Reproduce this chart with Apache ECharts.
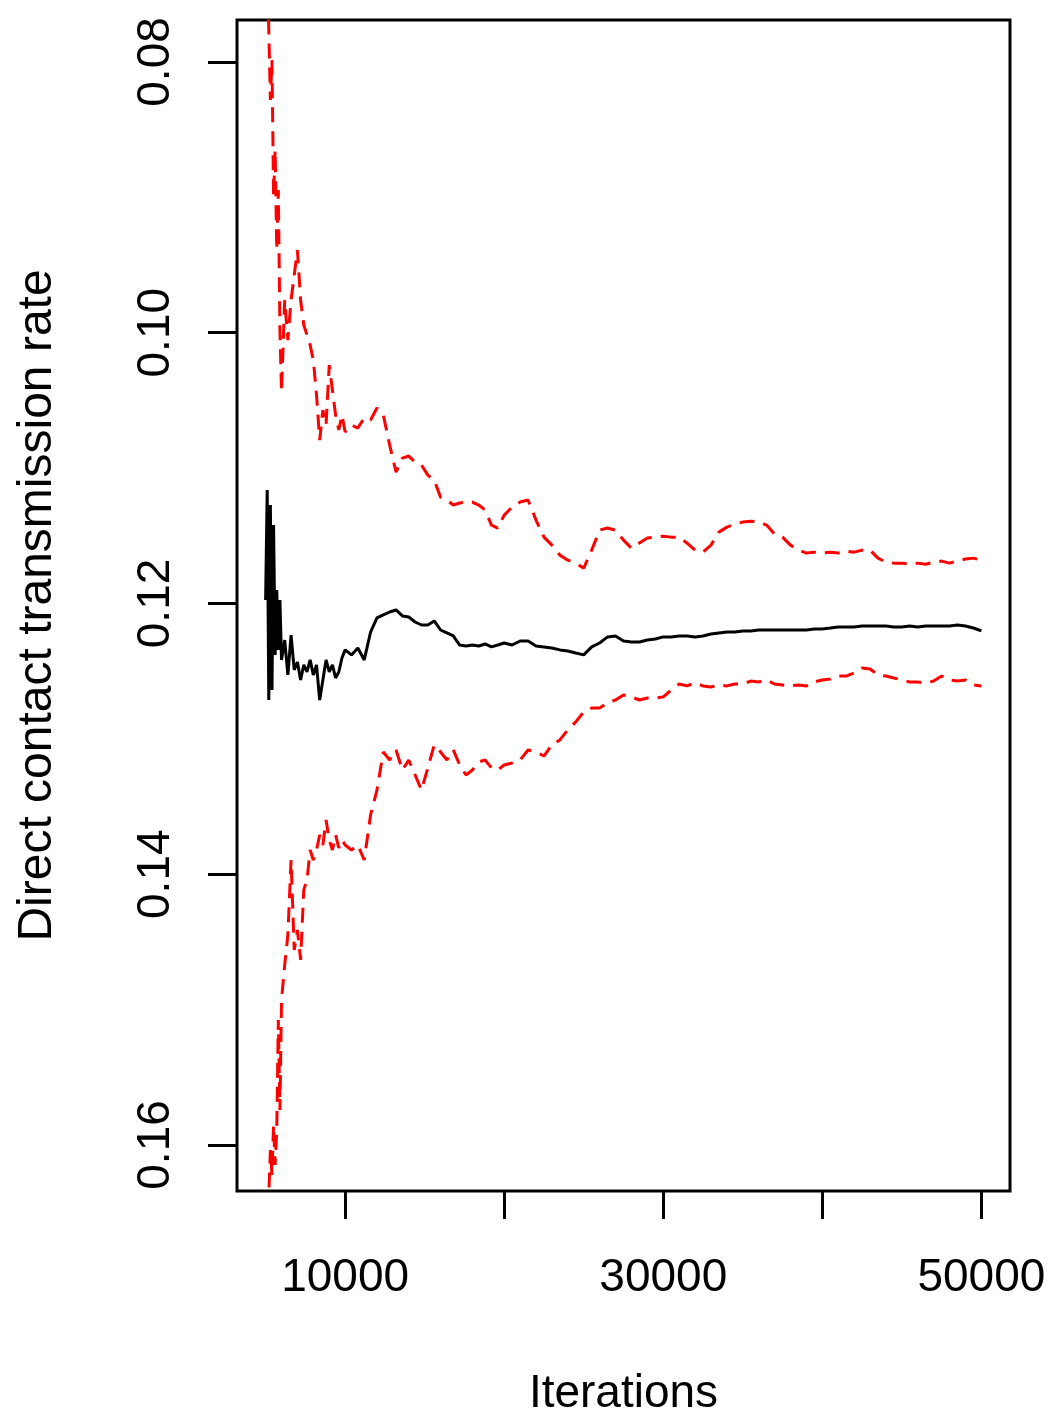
<!DOCTYPE html>
<html>
<head>
<meta charset="utf-8">
<title>Direct contact transmission rate</title>
<script src="https://cdn.jsdelivr.net/npm/echarts@6/dist/echarts.min.js"></script>
<style>
  html, body { margin: 0; padding: 0; background: #fff; }
  #chart { width: 1055px; height: 1422px; }
</style>
</head>
<body>
<div id="chart"></div>
<script>
'use strict';

// running summaries of the MCMC chain, sampled along the iterations
var iterations = [
    5000, 5100, 5200, 5300, 5400, 5500, 5600, 5700, 5800, 5900, 6000,
    6200, 6400, 6600, 6800, 7000, 7200, 7400, 7600, 7800, 8000,
    8200, 8400, 8600, 8800, 9000, 9200, 9400, 9600, 9800, 10000,
    10400, 10800, 11200, 11600, 12000, 12400, 12800, 13200, 13600, 14000,
    14400, 14800, 15200, 15600, 16000, 16400, 16800, 17200, 17600, 18000,
    18400, 18800, 19200, 19600, 20000,
    20500, 21000, 21500, 22000, 22500, 23000, 23500, 24000, 24500, 25000,
    25500, 26000, 26500, 27000, 27500, 28000, 28500, 29000, 29500, 30000,
    30500, 31000, 31500, 32000, 32500, 33000, 33500, 34000, 34500, 35000,
    35500, 36000, 36500, 37000, 37500, 38000, 38500, 39000, 39500, 40000,
    40500, 41000, 41500, 42000, 42500, 43000, 43500, 44000, 44500, 45000,
    45500, 46000, 46500, 47000, 47500, 48000, 48500, 49000, 49500, 50000
];

var runningMean = [
    0.11974, 0.11162, 0.12713, 0.11272, 0.12639, 0.11420, 0.12380, 0.11900, 0.12343, 0.11974, 0.12417,
    0.12270, 0.12528, 0.12233, 0.12491, 0.12432, 0.12565, 0.12454, 0.12506, 0.12417, 0.12528,
    0.12454, 0.12713, 0.12565, 0.12417, 0.12506, 0.12454, 0.12550, 0.12506, 0.12403, 0.12343,
    0.12380, 0.12329, 0.12417, 0.12211, 0.12107, 0.12085, 0.12063, 0.12048, 0.12092, 0.12100,
    0.12137, 0.12159, 0.12159, 0.12129, 0.12196, 0.12218, 0.12240, 0.12307, 0.12314, 0.12307,
    0.12314, 0.12299, 0.12321, 0.12307, 0.12292,
    0.12307, 0.12277, 0.12277, 0.12314, 0.12321, 0.12329, 0.12343, 0.12351, 0.12366, 0.12380,
    0.12321, 0.12292, 0.12247, 0.12240, 0.12277, 0.12284, 0.12284, 0.12270, 0.12262, 0.12247,
    0.12247, 0.12240, 0.12240, 0.12247, 0.12240, 0.12225, 0.12218, 0.12211, 0.12211, 0.12203,
    0.12203, 0.12196, 0.12196, 0.12196, 0.12196, 0.12196, 0.12196, 0.12196, 0.12188, 0.12188,
    0.12181, 0.12173, 0.12173, 0.12173, 0.12166, 0.12166, 0.12166, 0.12166, 0.12173, 0.12173,
    0.12166, 0.12173, 0.12166, 0.12166, 0.12166, 0.12166, 0.12159, 0.12166, 0.12181, 0.12203
];

// 2.5% running quantile (drawn near the top, y axis is reversed)
var quantileLow = [
    0.06800, 0.07200, 0.07764, 0.08281, 0.07985, 0.08997, 0.08650, 0.09389, 0.08946, 0.09980, 0.10438,
    0.09758, 0.10054, 0.09758, 0.09574, 0.09389, 0.09758, 0.09943, 0.10017, 0.10091, 0.10202,
    0.10460, 0.10793, 0.10572, 0.10682, 0.10239, 0.10423, 0.10608, 0.10719, 0.10608, 0.10733,
    0.10682, 0.10704, 0.10630, 0.10645, 0.10556, 0.10608, 0.10830, 0.11030, 0.10926, 0.10911,
    0.10956, 0.10978, 0.11052, 0.11089, 0.11215, 0.11236, 0.11273, 0.11258, 0.11251, 0.11251,
    0.11273, 0.11310, 0.11421, 0.11443, 0.11347,
    0.11288, 0.11251, 0.11236, 0.11384, 0.11510, 0.11569, 0.11643, 0.11680, 0.11702, 0.11739,
    0.11606, 0.11458, 0.11443, 0.11458, 0.11532, 0.11591, 0.11554, 0.11517, 0.11510, 0.11503,
    0.11510, 0.11510, 0.11554, 0.11606, 0.11621, 0.11569, 0.11473, 0.11436, 0.11414, 0.11399,
    0.11392, 0.11399, 0.11421, 0.11488, 0.11510, 0.11569, 0.11606, 0.11628, 0.11621, 0.11628,
    0.11621, 0.11628, 0.11613, 0.11621, 0.11606, 0.11606, 0.11665, 0.11695, 0.11702, 0.11702,
    0.11710, 0.11702, 0.11710, 0.11695, 0.11687, 0.11702, 0.11687, 0.11672, 0.11665, 0.11680
];

// 97.5% running quantile
var quantileHigh = [
    0.17200, 0.16800, 0.16369, 0.16037, 0.16222, 0.15852, 0.16148, 0.15889, 0.15077, 0.15742, 0.14929,
    0.14670, 0.14449, 0.13895, 0.14560, 0.14412, 0.14633, 0.14116, 0.14043, 0.13821, 0.13895,
    0.13821, 0.13710, 0.13784, 0.13599, 0.13747, 0.13821, 0.13710, 0.13806, 0.13747, 0.13784,
    0.13821, 0.13784, 0.13895, 0.13562, 0.13378, 0.13097, 0.13156, 0.13082, 0.13230, 0.13156,
    0.13267, 0.13378, 0.13215, 0.13045, 0.13097, 0.13156, 0.13082, 0.13193, 0.13267, 0.13230,
    0.13171, 0.13156, 0.13215, 0.13230, 0.13193,
    0.13178, 0.13156, 0.13082, 0.13097, 0.13127, 0.13045, 0.13008, 0.12934, 0.12875, 0.12801,
    0.12772, 0.12772, 0.12735, 0.12713, 0.12676, 0.12690, 0.12713, 0.12698, 0.12698, 0.12690,
    0.12639, 0.12595, 0.12609, 0.12587, 0.12609, 0.12617, 0.12602, 0.12609, 0.12595, 0.12595,
    0.12573, 0.12580, 0.12565, 0.12595, 0.12602, 0.12609, 0.12602, 0.12609, 0.12580, 0.12565,
    0.12558, 0.12536, 0.12536, 0.12513, 0.12476, 0.12484, 0.12528, 0.12536, 0.12550, 0.12565,
    0.12580, 0.12580, 0.12587, 0.12573, 0.12536, 0.12565, 0.12573, 0.12565, 0.12602, 0.12609
];

var xTicks = [10000, 20000, 30000, 40000, 50000];
var xLabels = [10000, 30000, 50000];
var yTicks = [0.08, 0.10, 0.12, 0.14, 0.16];

function pairs(ys) {
    return iterations.map(function(x, i) { return [x, ys[i]]; });
}

var FONT = '"Liberation Sans", Arial, sans-serif';

var myChart = echarts.init(document.getElementById('chart'), null, { renderer: 'canvas' });

myChart.setOption({
    animation: false,
    backgroundColor: '#fff',
    grid: {
        left: 237, right: 45, top: 20, bottom: 231,
        show: true,
        borderColor: '#000',
        borderWidth: 3,
        backgroundColor: 'transparent'
    },
    xAxis: {
        type: 'value',
        min: 3201,
        max: 51800,
        name: 'Iterations',
        nameLocation: 'middle',
        nameGap: 180,
        nameTextStyle: { fontFamily: FONT, fontSize: 46, color: '#000' },
        axisLine: { show: false, onZero: false },
        splitLine: { show: false },
        axisTick: {
            show: true, length: 28, customValues: xTicks,
            lineStyle: { color: '#000', width: 3 }
        },
        axisLabel: {
            customValues: xLabels,
            margin: 64,
            fontFamily: FONT, fontSize: 46, color: '#000',
            formatter: function(v) { return String(v); }
        }
    },
    yAxis: {
        type: 'value',
        inverse: true,
        min: 0.0769,
        max: 0.1634,
        name: 'Direct contact transmission rate',
        nameLocation: 'middle',
        nameGap: 175,
        nameTextStyle: { fontFamily: FONT, fontSize: 48, color: '#000' },
        axisLine: { show: false },
        splitLine: { show: false },
        axisTick: {
            show: true, length: 29, customValues: yTicks,
            lineStyle: { color: '#000', width: 3 }
        },
        axisLabel: {
            customValues: yTicks,
            rotate: 90,
            margin: 58,
            fontFamily: FONT, fontSize: 46, color: '#000',
            formatter: function(v) { return v.toFixed(2); }
        }
    },
    series: [
        {
            name: 'mean',
            type: 'line',
            data: pairs(runningMean),
            showSymbol: false,
            clip: true,
            lineStyle: { color: '#000', width: 3 }
        },
        {
            name: '2.5%',
            type: 'line',
            data: pairs(quantileLow),
            showSymbol: false,
            clip: true,
            lineStyle: { color: '#ff0000', width: 3, type: [15, 9] }
        },
        {
            name: '97.5%',
            type: 'line',
            data: pairs(quantileHigh),
            showSymbol: false,
            clip: true,
            lineStyle: { color: '#ff0000', width: 3, type: [15, 9] }
        }
    ]
});
</script>
</body>
</html>
